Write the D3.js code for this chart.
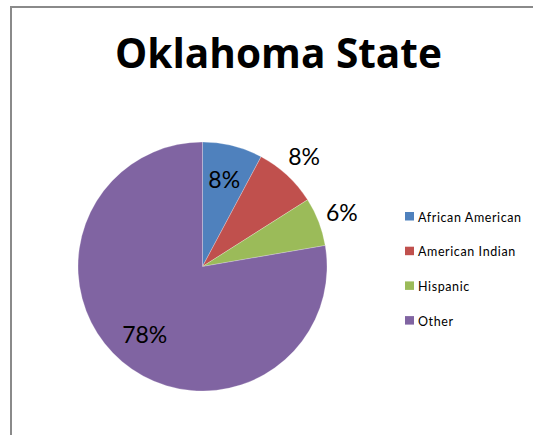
<!DOCTYPE html>
<html>
<head>
<meta charset="utf-8">
<script src="https://cdn.jsdelivr.net/npm/d3@7"></script>
<style>
  html, body { margin: 0; padding: 0; background: #fff; }
  svg { display: block; font-family: Lato, "Open Sans", sans-serif; }
</style>
</head>
<body>
<svg id="chart" width="533" height="435"></svg>
<script>
// Ethnic composition, Oklahoma State
const categories = ["African American", "American Indian", "Hispanic", "Other"];
const shares = [7.8, 8.2, 6.3, 77.7];
const colors = ["#4F81BD", "#C0504D", "#9BBB59", "#8064A2"];
const labelPlacement = ["inside", "outside", "outside", "inside"];
const title = "Oklahoma State";

const svg = d3.select("#chart");

// Chart-area frame (only top and left edges fall inside the view)
svg.append("path")
  .attr("d", "M11,435 V7 H533")
  .attr("fill", "none")
  .attr("stroke", "#8a8a8a")
  .attr("stroke-width", 2);

// Title, sized to span the heading width
const titleText = svg.append("text")
  .attr("x", 278.5)
  .attr("y", 68)
  .attr("text-anchor", "middle")
  .attr("font-family", "'Open Sans', Lato, sans-serif")
  .attr("font-weight", "bold")
  .attr("font-size", 36)
  .attr("fill", "#000")
  .text(title);
const tw = titleText.node().getComputedTextLength();
titleText.attr("font-size", 36 * 327 / tw);

// Pie
const cx = 202.5, cy = 266.5, R = 124.5;
const total = d3.sum(shares);
const data = categories.map((c, i) => ({ name: c, value: shares[i], color: colors[i], place: labelPlacement[i] }));

const pie = d3.pie().value(d => d.value).sort(null);
const arcs = pie(data);
const arc = d3.arc().innerRadius(0).outerRadius(R);
const inArc = d3.arc().innerRadius(R * 0.72).outerRadius(R * 0.72);
const outArc = d3.arc().innerRadius(R * 1.2).outerRadius(R * 1.2);

const g = svg.append("g").attr("transform", `translate(${cx},${cy})`);

g.selectAll("path.slice")
  .data(arcs)
  .join("path")
  .attr("class", "slice")
  .attr("d", arc)
  .attr("fill", d => d.data.color)
  .attr("stroke", "#fff")
  .attr("stroke-width", 0.4)
  .attr("stroke-opacity", 0.6);

g.selectAll("text.pct")
  .data(arcs)
  .join("text")
  .attr("class", "pct")
  .attr("transform", d => {
    const [x, y] = (d.data.place === "inside" ? inArc : outArc).centroid(d);
    return `translate(${x},${y})`;
  })
  .attr("text-anchor", "middle")
  .attr("dy", "0.35em")
  .attr("font-size", 23)
  .attr("fill", "#000")
  .text(d => Math.round(d.data.value / total * 100) + "%");

// Legend
const legend = svg.append("g").attr("transform", "translate(405,212)");
const rowH = 34.7;
const item = legend.selectAll("g.item")
  .data(data)
  .join("g")
  .attr("class", "item")
  .attr("transform", (d, i) => `translate(0,${i * rowH})`);

item.append("rect")
  .attr("width", 9)
  .attr("height", 8.5)
  .attr("fill", d => d.color);

item.append("text")
  .attr("x", 13)
  .attr("y", 9.5)
  .attr("font-size", 12.5)
  .attr("letter-spacing", 0.6)
  .attr("fill", "#000")
  .text(d => d.name);
</script>
</body>
</html>
